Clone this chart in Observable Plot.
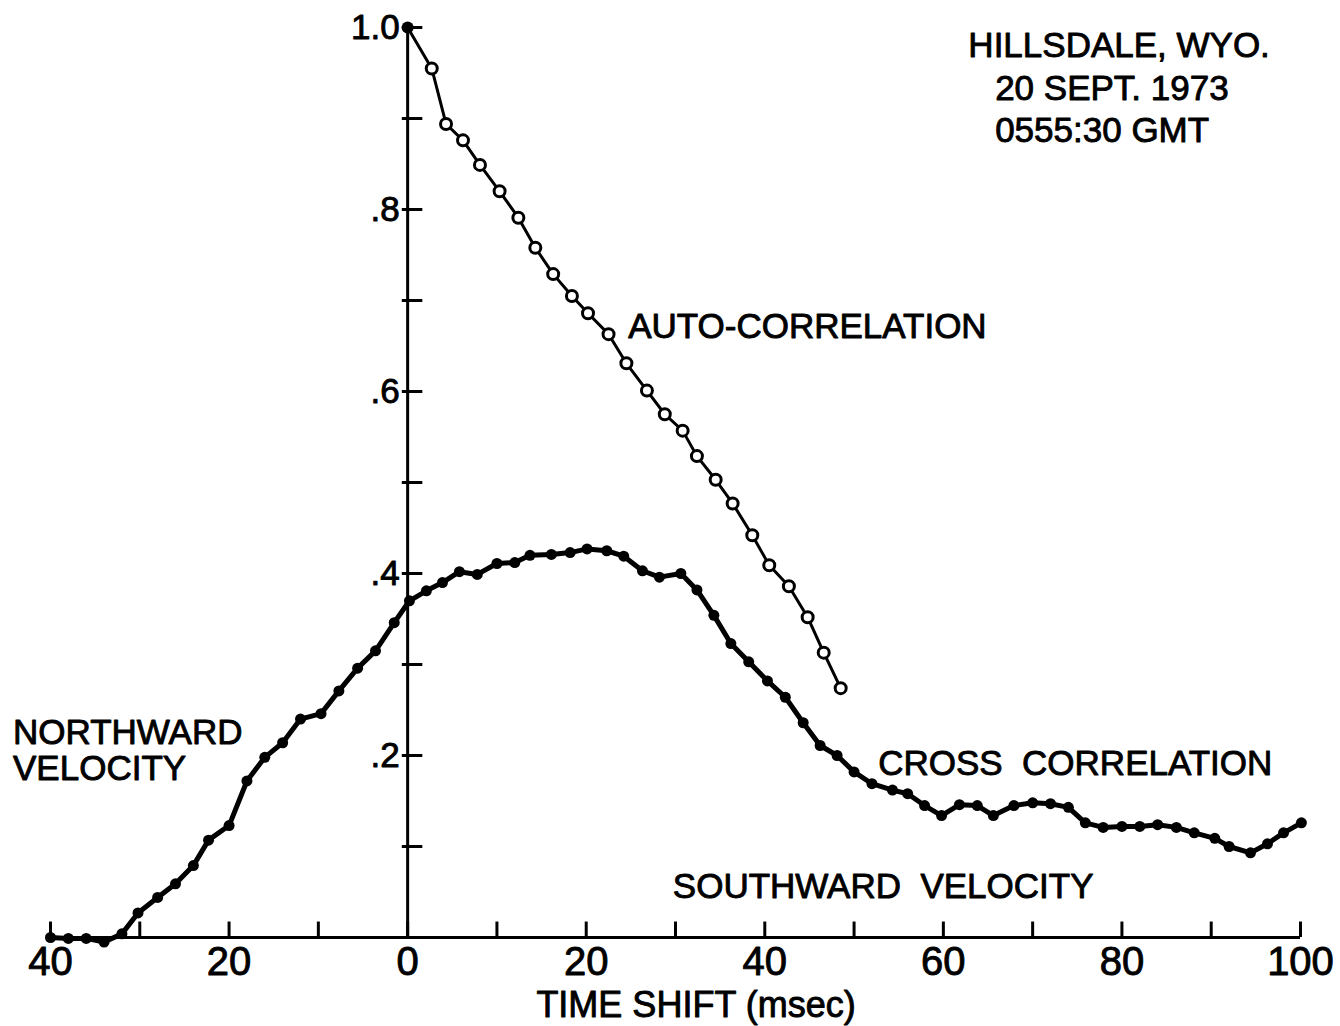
<!DOCTYPE html>
<html><head><meta charset="utf-8">
<script src="https://cdn.jsdelivr.net/npm/d3@7"></script>
<script src="https://cdn.jsdelivr.net/npm/@observablehq/plot@0.6"></script>
<style>html,body{margin:0;padding:0;background:#fff;} svg{display:block}</style>
</head><body><div id="chart"></div>
<script>
// Cross correlation (filled dots)
const crossT = [-40,-38,-36,-34,-32,-30.2,-28,-26,-24,-22.3,-20,-18,-16,-14,-12,-9.7,-7.7,-5.6,-3.6,-1.5,
  0.2,2.1,3.9,5.8,7.8,10,12,13.7,16.1,18.2,20.1,22.3,24.2,26.3,28.2,30.6,32.4,34.3,36.2,38.2,
  40.3,42.3,44.3,46.2,48.1,50,52,54.3,56,57.9,59.8,61.8,63.8,65.6,67.9,70,72,74,75.9,77.9,
  80,82,84,86.1,88.1,90.4,92,94.4,96.3,98.1,100.1];
const crossV = [0.000,-0.001,-0.001,-0.005,0.004,0.027,0.044,0.059,0.079,0.107,0.123,0.172,0.198,0.214,0.240,0.246,0.271,0.296,0.315,0.346,
  0.370,0.381,0.390,0.402,0.399,0.411,0.412,0.420,0.421,0.423,0.427,0.425,0.419,0.403,0.396,0.400,0.382,0.354,0.323,0.303,
  0.282,0.264,0.236,0.211,0.200,0.182,0.169,0.162,0.158,0.145,0.134,0.146,0.145,0.134,0.145,0.148,0.147,0.143,0.126,0.121,
  0.122,0.122,0.124,0.121,0.115,0.109,0.100,0.093,0.103,0.115,0.126];
// Auto-correlation (open circles)
const autoT = [0,2.7,4.3,6.2,8.1,10.3,12.4,14.3,16.3,18.4,20.2,22.5,24.5,26.8,28.8,30.8,32.4,34.5,36.4,38.6,40.5,42.7,44.8,46.6,48.5];
const autoV = [1.0,0.955,0.894,0.876,0.849,0.820,0.791,0.758,0.729,0.705,0.686,0.663,0.631,0.601,0.575,0.557,0.529,0.503,0.477,0.442,0.409,0.386,0.352,0.313,0.274];

const xTicks = [-40,-30,-20,-10,0,10,20,30,40,50,60,70,80,90,100];
const xLabelValues = [-40,-20,0,20,40,60,80,100];
const xLabelText = ["40","20","0","20","40","60","80","100"];
const yTicks = [0.1,0.2,0.3,0.4,0.5,0.6,0.7,0.8,0.9,1.0];
const yLabelValues = [0.2,0.4,0.6,0.8,1.0];
const yLabelText = [".2",".4",".6",".8","1.0"];

const annotText = ["HILLSDALE, WYO.","20 SEPT. 1973","0555:30 GMT","AUTO-CORRELATION","CROSS  CORRELATION","SOUTHWARD  VELOCITY","NORTHWARD","VELOCITY"];
const annotX = [62.8,65.8,65.8,24.7,52.7,29.7,-44.2,-44.2];
const annotY = [0.980,0.933,0.886,0.671,0.191,0.056,0.225,0.185];

const cross = crossT.map((t,i)=>({t, v: crossV[i]}));
const auto = autoT.map((t,i)=>({t, v: autoV[i]}));
const annots = annotText.map((s,i)=>({s, x: annotX[i], y: annotY[i]}));

const font = "Liberation Sans, Arial, Helvetica, sans-serif";
const textStyle = {fill: "black", stroke: "black", strokeWidth: 0.9};
const plot = Plot.plot({
  width: 1340, height: 1026,
  marginLeft: 50, marginRight: 40, marginTop: 27, marginBottom: 89,
  x: {domain: [-40, 100], axis: null},
  y: {domain: [0, 1], axis: null},
  style: {fontFamily: font, background: "white", color: "black"},
  marks: [
    Plot.ruleY([0], {x1: -40, x2: 100, stroke: "black", strokeWidth: 3}),
    Plot.ruleX([0], {y1: 0, y2: 1, stroke: "black", strokeWidth: 3}),
    Plot.ruleX(xTicks, {x: d => d, y1: 0, y2: 0.017, stroke: "black", strokeWidth: 3}),
    Plot.ruleY(yTicks, {y: d => d, x1: -0.6, x2: 1.7, stroke: "black", strokeWidth: 3}),
    Plot.text(xLabelValues, {x: d => d, y: 0, text: (d, i) => xLabelText[i], dy: 25, fontSize: 40, lineAnchor: "middle", ...textStyle}),
    Plot.text(yLabelValues, {x: 0, y: d => d, text: (d, i) => yLabelText[i], dx: -8, textAnchor: "end", fontSize: 35, lineAnchor: "middle", ...textStyle}),
    Plot.text(["TIME SHIFT (msec)"], {x: 32.3, y: 0, text: d => d, dy: 68, fontSize: 36, lineAnchor: "middle", ...textStyle}),
    Plot.line(auto, {x: "t", y: "v", stroke: "black", strokeWidth: 3}),
    Plot.dot(auto.slice(1), {x: "t", y: "v", r: 5.5, fill: "white", stroke: "black", strokeWidth: 3}),
    Plot.dot(auto.slice(0, 1), {x: "t", y: "v", r: 6, fill: "black"}),
    Plot.line(cross, {x: "t", y: "v", stroke: "black", strokeWidth: 5}),
    Plot.dot(cross, {x: "t", y: "v", r: 5.5, fill: "black"}),
    Plot.text(annots, {x: "x", y: "y", text: "s", textAnchor: "start", lineAnchor: "middle", fontSize: 35, ...textStyle})
  ]
});
document.getElementById("chart").appendChild(plot);
// keep double spaces between words
d3.select(plot).selectAll("text").style("white-space", "pre");
</script>
</body></html>
